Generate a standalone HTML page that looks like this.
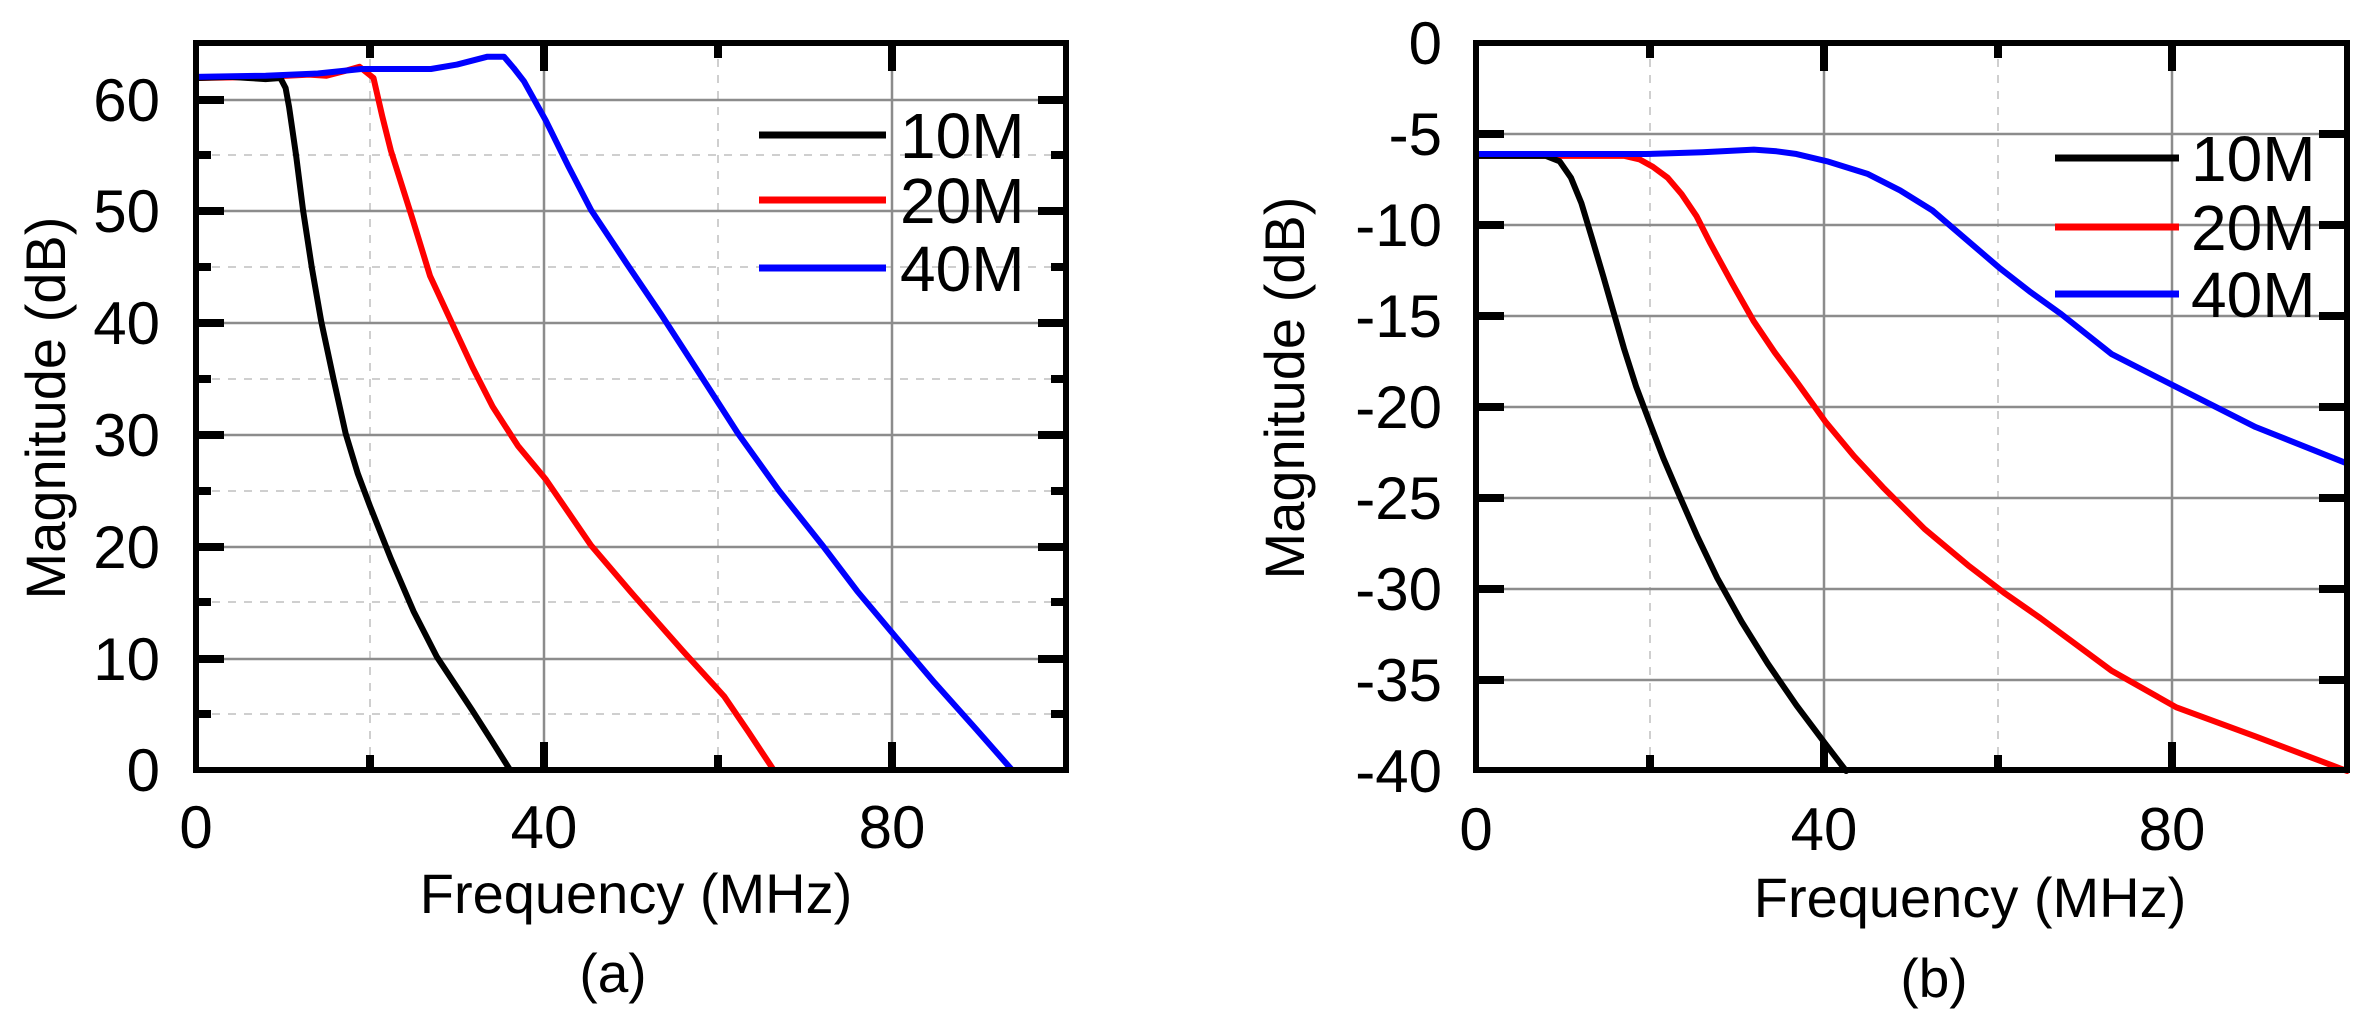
<!DOCTYPE html>
<html><head><meta charset="utf-8"><style>
html,body{margin:0;padding:0;background:#fff}
svg{display:block}
text{font-family:"Liberation Sans",Arial,sans-serif;fill:#000}
</style></head><body>
<svg width="2373" height="1030" viewBox="0 0 2373 1030" xmlns="http://www.w3.org/2000/svg">
<!-- LEFT PLOT -->
<g stroke="#cfcfcf" stroke-width="2" stroke-dasharray="8,8">
<line x1="196" y1="714" x2="1066" y2="714"/><line x1="196" y1="602" x2="1066" y2="602"/><line x1="196" y1="491" x2="1066" y2="491"/><line x1="196" y1="379" x2="1066" y2="379"/><line x1="196" y1="267" x2="1066" y2="267"/><line x1="196" y1="155" x2="1066" y2="155"/>
<line x1="370" y1="43" x2="370" y2="770"/><line x1="718" y1="43" x2="718" y2="770"/>
</g>
<g stroke="#8c8c8c" stroke-width="2.5">
<line x1="196" y1="659" x2="1066" y2="659"/><line x1="196" y1="547" x2="1066" y2="547"/><line x1="196" y1="435" x2="1066" y2="435"/><line x1="196" y1="323" x2="1066" y2="323"/><line x1="196" y1="211" x2="1066" y2="211"/><line x1="196" y1="100" x2="1066" y2="100"/>
<line x1="544" y1="43" x2="544" y2="770"/><line x1="892" y1="43" x2="892" y2="770"/>
</g>
<g stroke="#000" stroke-width="8">
<line x1="196" y1="659" x2="224" y2="659"/><line x1="196" y1="547" x2="224" y2="547"/><line x1="196" y1="435" x2="224" y2="435"/><line x1="196" y1="323" x2="224" y2="323"/><line x1="196" y1="211" x2="224" y2="211"/><line x1="196" y1="100" x2="224" y2="100"/>
<line x1="196" y1="714" x2="211" y2="714"/><line x1="196" y1="602" x2="211" y2="602"/><line x1="196" y1="491" x2="211" y2="491"/><line x1="196" y1="379" x2="211" y2="379"/><line x1="196" y1="267" x2="211" y2="267"/><line x1="196" y1="155" x2="211" y2="155"/>
<line x1="1066" y1="659" x2="1038" y2="659"/><line x1="1066" y1="547" x2="1038" y2="547"/><line x1="1066" y1="435" x2="1038" y2="435"/><line x1="1066" y1="323" x2="1038" y2="323"/><line x1="1066" y1="211" x2="1038" y2="211"/><line x1="1066" y1="100" x2="1038" y2="100"/>
<line x1="1066" y1="714" x2="1051" y2="714"/><line x1="1066" y1="602" x2="1051" y2="602"/><line x1="1066" y1="491" x2="1051" y2="491"/><line x1="1066" y1="379" x2="1051" y2="379"/><line x1="1066" y1="267" x2="1051" y2="267"/><line x1="1066" y1="155" x2="1051" y2="155"/>
<line x1="544" y1="770" x2="544" y2="742"/><line x1="892" y1="770" x2="892" y2="742"/><line x1="370" y1="770" x2="370" y2="755"/><line x1="718" y1="770" x2="718" y2="755"/>
<line x1="544" y1="43" x2="544" y2="71"/><line x1="892" y1="43" x2="892" y2="71"/><line x1="370" y1="43" x2="370" y2="58"/><line x1="718" y1="43" x2="718" y2="58"/>
</g>
<g fill="none" stroke-width="6" stroke-linejoin="round" stroke-linecap="round">
<g transform="matrix(8.7 0 0 -11.18 196 770)">
<polyline vector-effect="non-scaling-stroke" stroke-width="6" stroke="#f00" points="0,61.9 8,62 13,62.2 15,62.1 17,62.5 18.8,62.9 20.4,61.9 21.4,58.5 22.4,55.4 24.8,49.5 26.9,44.2 29.7,39.5 31.8,36 34.1,32.5 37,29 40.2,26 45.4,20.1 50,15.9 55.9,10.7 60.7,6.6 63.5,3.4 66.4,0"/>
<polyline vector-effect="non-scaling-stroke" stroke-width="6" stroke="#000" points="0,61.9 4,62 6,61.9 8,61.8 9.7,61.9 10.3,61 10.7,59.3 11.5,55 12.3,50.1 13.3,45 14.4,40.1 15.8,35 17.2,30.1 18.6,26.5 20,23.6 22.4,18.9 25,14.2 27.7,10.1 31.7,5.4 34,2.6 36.1,0"/>
<polyline vector-effect="non-scaling-stroke" stroke-width="6" stroke="#00f" points="0,62 8,62.1 14,62.3 19,62.7 27,62.7 30,63.1 33.5,63.8 35.4,63.8 36.5,62.8 37.7,61.6 40.2,58.1 42.8,54 45.4,50.1 49.5,45.3 53.5,40.7 58,35.3 62.3,30.1 67,25 72,20.1 76,16 80.1,12.2 84.9,7.8 89.5,3.8 93.8,0"/>
</g>
</g>
<rect x="196" y="43" width="870" height="727" fill="none" stroke="#000" stroke-width="6"/>
<g font-size="60" text-anchor="end">
<text x="160" y="791">0</text><text x="160" y="680">10</text><text x="160" y="568">20</text><text x="160" y="456">30</text><text x="160" y="344">40</text><text x="160" y="232">50</text><text x="160" y="121">60</text>
</g>
<g font-size="60" text-anchor="middle">
<text x="196" y="848">0</text><text x="544" y="848">40</text><text x="892" y="848">80</text>
</g>
<text x="636" y="913" font-size="56" text-anchor="middle">Frequency (MHz)</text>
<text x="613" y="992" font-size="55" text-anchor="middle">(a)</text>
<text transform="translate(65,408) rotate(-90)" font-size="56" text-anchor="middle">Magnitude (dB)</text>
<g stroke-width="7"><line x1="759" y1="135" x2="886" y2="135" stroke="#000"/><line x1="759" y1="200" x2="886" y2="200" stroke="#f00"/><line x1="759" y1="268" x2="886" y2="268" stroke="#00f"/></g>
<g font-size="64"><text x="900" y="158">10M</text><text x="900" y="223">20M</text><text x="900" y="291">40M</text></g>

<!-- RIGHT PLOT -->
<g stroke="#cfcfcf" stroke-width="2" stroke-dasharray="8,8">
<line x1="1650" y1="43" x2="1650" y2="770"/><line x1="1998" y1="43" x2="1998" y2="770"/>
</g>
<g stroke="#8c8c8c" stroke-width="2.5">
<line x1="1476" y1="134" x2="2347" y2="134"/><line x1="1476" y1="225" x2="2347" y2="225"/><line x1="1476" y1="316" x2="2347" y2="316"/><line x1="1476" y1="407" x2="2347" y2="407"/><line x1="1476" y1="498" x2="2347" y2="498"/><line x1="1476" y1="589" x2="2347" y2="589"/><line x1="1476" y1="680" x2="2347" y2="680"/>
<line x1="1824" y1="43" x2="1824" y2="770"/><line x1="2172" y1="43" x2="2172" y2="770"/>
</g>
<g stroke="#000" stroke-width="8">
<line x1="1476" y1="134" x2="1504" y2="134"/><line x1="1476" y1="225" x2="1504" y2="225"/><line x1="1476" y1="316" x2="1504" y2="316"/><line x1="1476" y1="407" x2="1504" y2="407"/><line x1="1476" y1="498" x2="1504" y2="498"/><line x1="1476" y1="589" x2="1504" y2="589"/><line x1="1476" y1="680" x2="1504" y2="680"/>
<line x1="2347" y1="134" x2="2319" y2="134"/><line x1="2347" y1="225" x2="2319" y2="225"/><line x1="2347" y1="316" x2="2319" y2="316"/><line x1="2347" y1="407" x2="2319" y2="407"/><line x1="2347" y1="498" x2="2319" y2="498"/><line x1="2347" y1="589" x2="2319" y2="589"/><line x1="2347" y1="680" x2="2319" y2="680"/>
<line x1="1824" y1="770" x2="1824" y2="742"/><line x1="2172" y1="770" x2="2172" y2="742"/><line x1="1650" y1="770" x2="1650" y2="755"/><line x1="1998" y1="770" x2="1998" y2="755"/>
<line x1="1824" y1="43" x2="1824" y2="71"/><line x1="2172" y1="43" x2="2172" y2="71"/><line x1="1650" y1="43" x2="1650" y2="58"/><line x1="1998" y1="43" x2="1998" y2="58"/>
</g>
<g fill="none" stroke-linejoin="round" stroke-linecap="round">
<g transform="matrix(8.71 0 0 -18.2 1476 43)">
<polyline vector-effect="non-scaling-stroke" stroke-width="6" stroke="#f00" points="0,-6.2 17,-6.2 18.8,-6.4 20.3,-6.8 22,-7.4 23.6,-8.3 25.3,-9.5 26.9,-11 29.4,-13.2 31.9,-15.3 34.3,-17 36.8,-18.6 40.1,-20.8 43.4,-22.7 46.7,-24.4 51.5,-26.7 56.5,-28.7 60.6,-30.2 64.8,-31.6 73,-34.5 80.4,-36.5 89.5,-38.1 100,-40"/>
<polyline vector-effect="non-scaling-stroke" stroke-width="6" stroke="#000" points="0,-6.2 8,-6.2 9.6,-6.5 10.9,-7.4 12.1,-8.8 13.3,-10.7 14.6,-12.8 15.8,-14.8 17,-16.8 18.4,-18.9 19.9,-20.8 21.5,-22.8 23.2,-24.7 25.4,-27.1 27.7,-29.4 30.5,-31.8 33.5,-34.1 36.8,-36.4 40.1,-38.5 42.5,-40"/>
<polyline vector-effect="non-scaling-stroke" stroke-width="6" stroke="#00f" points="0,-6.1 19.5,-6.1 26,-6 31.9,-5.86 34.5,-5.95 36.8,-6.1 40.3,-6.5 45,-7.2 48.7,-8.1 52.4,-9.2 56.3,-10.8 60.2,-12.4 63.7,-13.7 67.2,-14.9 73,-17.1 80.4,-18.9 89.5,-21.1 100,-23.1"/>
</g>
</g>
<rect x="1476" y="43" width="871" height="727" fill="none" stroke="#000" stroke-width="6"/>
<g font-size="60" text-anchor="end">
<text x="1442" y="64">0</text><text x="1442" y="155">-5</text><text x="1442" y="246">-10</text><text x="1442" y="337">-15</text><text x="1442" y="428">-20</text><text x="1442" y="519">-25</text><text x="1442" y="610">-30</text><text x="1442" y="701">-35</text><text x="1442" y="792">-40</text>
</g>
<g font-size="60" text-anchor="middle">
<text x="1476" y="850">0</text><text x="1824" y="850">40</text><text x="2172" y="850">80</text>
</g>
<text x="1970" y="917" font-size="56" text-anchor="middle">Frequency (MHz)</text>
<text x="1934" y="997" font-size="55" text-anchor="middle">(b)</text>
<text transform="translate(1304,388) rotate(-90)" font-size="56" text-anchor="middle">Magnitude (dB)</text>
<g stroke-width="7"><line x1="2055" y1="158" x2="2179" y2="158" stroke="#000"/><line x1="2055" y1="227" x2="2179" y2="227" stroke="#f00"/><line x1="2055" y1="294" x2="2179" y2="294" stroke="#00f"/></g>
<g font-size="64"><text x="2191" y="181">10M</text><text x="2191" y="250">20M</text><text x="2191" y="317">40M</text></g>
</svg>
</body></html>
